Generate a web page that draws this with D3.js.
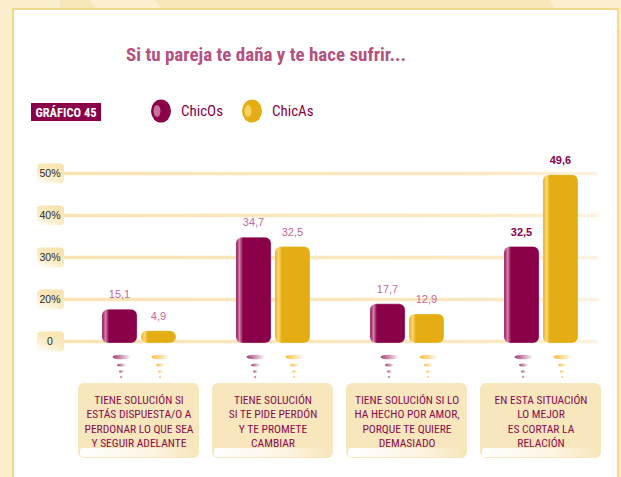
<!DOCTYPE html>
<html><head><meta charset="utf-8">
<script src="https://cdn.jsdelivr.net/npm/d3@7"></script>
<style>html,body{margin:0;padding:0;background:#f8e8bb;}svg{display:block;}</style>
</head><body><svg id="c" width="621" height="477"></svg>
<script>
const categories = ["c1","c2","c3","c4"];
const categoryLines = [
  ["TIENE SOLUCIÓN SI","ESTÁS DISPUESTA/O A","PERDONAR LO QUE SEA","Y SEGUIR ADELANTE"],
  ["TIENE SOLUCIÓN","SI TE PIDE PERDÓN","Y TE PROMETE","CAMBIAR"],
  ["TIENE SOLUCIÓN SI LO","HA HECHO POR AMOR,","PORQUE TE QUIERE","DEMASIADO"],
  ["EN ESTA SITUACIÓN","LO MEJOR","ES CORTAR LA","RELACIÓN"]
];
const seriesNames = ["ChicOs","ChicAs"];
const chicos = [15.1, 34.7, 17.7, 32.5];
const chicas = [4.9, 32.5, 12.9, 49.6];
const tickValues = [0, 20, 30, 40, 50];
const tickLabels = ["0", "20%", "30%", "40%", "50%"];
const valueLabels = [["15,1","34,7","17,7","32,5"],["4,9","32,5","12,9","49,6"]];
const title = "Si tu pareja te daña y te hace sufrir...";
const chartId = "GRÁFICO 45";

const colors = {ChicOs:"#8a0049", ChicAs:"#e3ad13"};
const hiColors = {ChicOs:"#d683aa", ChicAs:"#fdd774"};
const dripColors = {ChicOs:"#a83d74", ChicAs:"#f7bd3c"};
const narrow = "'Liberation Sans Narrow','Arial Narrow','Roboto Condensed',sans-serif";

const svg = d3.select("#c");
const defs = svg.append("defs");

// background
svg.append("rect").attr("width",621).attr("height",477).attr("fill","#f8e7b9");
svg.append("polygon").attr("points","0,0 60,0 80,477 0,477").attr("fill","#fbeecd");
svg.append("polygon").attr("points","90,0 155,0 175,30 110,30").attr("fill","#fbefd0");
svg.append("polygon").attr("points","550,0 621,0 621,30 565,30").attr("fill","#fbefd0");
// panel
svg.append("rect").attr("x",13).attr("y",9).attr("width",605).attr("height",480)
  .attr("fill","#ffffff").attr("stroke","#f3d98a").attr("stroke-width",2);

// title
svg.append("text").attr("x",266).attr("y",61).attr("text-anchor","middle")
  .attr("font-family",narrow).attr("font-weight","bold").attr("font-size",19)
  .attr("fill","#b5517f").text(title);

// chart id box
svg.append("rect").attr("x",31).attr("y",103).attr("width",70).attr("height",18).attr("fill","#8a0049");
svg.append("text").attr("x",66).attr("y",116.5).attr("text-anchor","middle")
  .attr("font-family",narrow).attr("font-weight","bold").attr("font-size",12.5)
  .attr("fill","#fff").text(chartId);

// gradients
seriesNames.forEach(s => {
  const g = defs.append("linearGradient").attr("id","bar"+s).attr("x1","0").attr("x2","1").attr("y1","0").attr("y2","0");
  g.append("stop").attr("offset","0").attr("stop-color",colors[s]);
  g.append("stop").attr("offset","0.1").attr("stop-color",hiColors[s]);
  g.append("stop").attr("offset","0.2").attr("stop-color",colors[s]);
  g.append("stop").attr("offset","1").attr("stop-color",colors[s]);
  const d = defs.append("linearGradient").attr("id","drip"+s).attr("x1","0").attr("x2","1");
  d.append("stop").attr("offset","0").attr("stop-color",dripColors[s]);
  d.append("stop").attr("offset","1").attr("stop-color",dripColors[s]).attr("stop-opacity",0.05);
});
const tg = defs.append("linearGradient").attr("id","tickbox").attr("x1","0").attr("y1","1").attr("x2","0.6").attr("y2","0");
tg.append("stop").attr("offset","0").attr("stop-color","#ffffff");
tg.append("stop").attr("offset","0.5").attr("stop-color","#fbecc6");
tg.append("stop").attr("offset","1").attr("stop-color","#f9e3ae");
const gg = defs.append("linearGradient").attr("id","grid").attr("gradientUnits","userSpaceOnUse")
  .attr("x1",0).attr("x2",535).attr("y1",0).attr("y2",0);
gg.append("stop").attr("offset","0").attr("stop-color","#fae4b6");
gg.append("stop").attr("offset","0.8").attr("stop-color","#fbe9c3");
gg.append("stop").attr("offset","1").attr("stop-color","#fdf3df");
const sg = defs.append("linearGradient").attr("id","strip").attr("x1","0").attr("x2","1");
sg.append("stop").attr("offset","0").attr("stop-color","#ffffff");
sg.append("stop").attr("offset","0.6").attr("stop-color","#fdf5e3");
sg.append("stop").attr("offset","1").attr("stop-color","#f8e6bb");

// legend
const leg = svg.append("g");
seriesNames.forEach((s,i) => {
  const cx = 161 + i*91;
  leg.append("ellipse").attr("cx",cx).attr("cy",111).attr("rx",10).attr("ry",11.5).attr("fill",colors[s]);
  leg.append("ellipse").attr("cx",cx-4).attr("cy",111).attr("rx",3.5).attr("ry",6).attr("fill",hiColors[s]).attr("opacity",0.85);
  leg.append("text").attr("x",cx+20).attr("y",116).attr("font-family",narrow).attr("font-size",15)
    .attr("fill","#8a0049").text(s);
});

// scales
const y = d3.scaleLinear().domain([0,20,50]).range([341,299,173]);
const x0 = d3.scaleBand().domain(categories).range([72,608]);
const x1 = d3.scaleBand().domain(seriesNames).range([0,74]).paddingInner(0.1);
const groupStart = c => x0(c) + x0.bandwidth()/2 - 37;

// axis with gridlines
const axis = d3.axisLeft(y).tickValues(tickValues).tickSize(-535).tickPadding(0)
  .tickFormat((d,i) => tickLabels[i]);
const ag = svg.append("g").attr("transform","translate(63,0)").call(axis);
ag.select(".domain").remove();
ag.selectAll(".tick line").attr("stroke","url(#grid)").attr("stroke-width",3.5);
ag.selectAll(".tick").insert("rect","text").attr("x",-26).attr("y",-10).attr("width",27).attr("height",20)
  .attr("rx",4).attr("fill","url(#tickbox)");
ag.selectAll(".tick text").attr("x",-13).attr("text-anchor","middle").attr("dy","0.35em")
  .attr("font-family","'Liberation Sans',Arial,sans-serif").attr("font-size",10.5).attr("fill","#2a2a2a");

// bars
const seriesData = [chicos, chicas];
seriesNames.forEach((s,si) => {
  const g = svg.append("g");
  categories.forEach((c,ci) => {
    const v = seriesData[si][ci];
    const bx = groupStart(c) + x1(s);
    const bw = x1.bandwidth();
    const top = y(v);
    const h = y(0) + 2 - top;
    g.append("rect").attr("x",bx).attr("y",top).attr("width",bw).attr("height",h)
      .attr("rx",6).attr("fill","url(#bar"+s+")").attr("stroke","#fff").attr("stroke-opacity",0.5).attr("stroke-width",0.6);
    const last = ci === categories.length-1;
    g.append("text").attr("x",bx+bw/2).attr("y",top-11).attr("text-anchor","middle")
      .attr("font-family","'Liberation Sans',Arial,sans-serif").attr("font-size",11)
      .attr("font-weight", last ? "bold" : "normal")
      .attr("fill", last ? "#8a0049" : "#c5679b").text(valueLabels[si][ci]);
    // drips
    const cx = bx + bw/2 + 2;
    [[357,9,2.3],[365,4.5,1.6],[371.5,2.5,1.3],[377,1.2,1.2]].forEach(([dy,rx,ry]) => {
      g.append("ellipse").attr("cx",cx).attr("cy",dy).attr("rx",rx).attr("ry",ry).attr("fill","url(#drip"+s+")");
    });
  });
});

// category boxes
categories.forEach((c,ci) => {
  const cx = x0(c) + x0.bandwidth()/2;
  const g = svg.append("g");
  g.append("rect").attr("x",cx-61).attr("y",383).attr("width",121).attr("height",75).attr("rx",6).attr("fill","#f8e7bd");
  g.append("rect").attr("x",cx-59).attr("y",448).attr("width",117).attr("height",9).attr("rx",3).attr("fill","url(#strip)");
  categoryLines[ci].forEach((ln,li) => {
    g.append("text").attr("x",cx).attr("y",403.5 + li*14.5).attr("text-anchor","middle")
      .attr("font-family",narrow).attr("font-size",11.5).attr("fill","#8a0a4e").text(ln);
  });
});
</script></body></html>
